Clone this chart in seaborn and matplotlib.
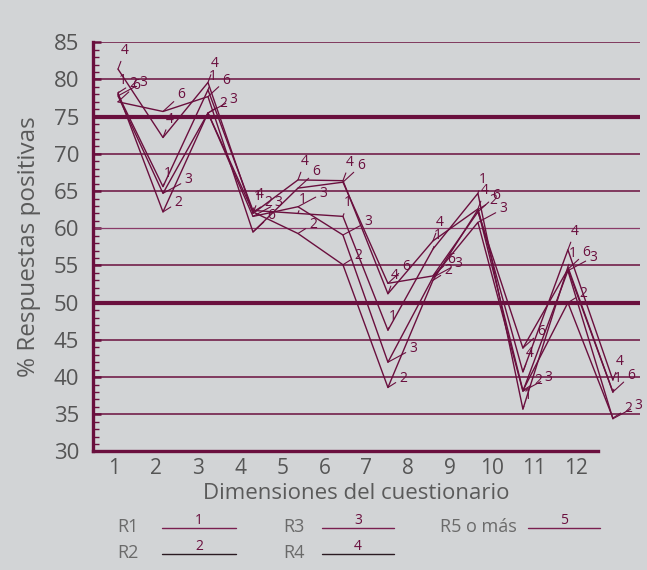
import numpy as np
import pandas as pd
import matplotlib
matplotlib.use("Agg")
import matplotlib.pyplot as plt
import seaborn as sns
from matplotlib.lines import Line2D

# datos (% respuestas positivas por dimension)
dimensiones = list(range(1, 13))
r1 = [78.0, 65.6, 78.6, 62.4, 62.0, 61.6, 46.3, 57.2, 64.7, 35.7, 54.8, 38.0]
r2 = [78.2, 62.2, 75.5, 62.2, 59.3, 55.1, 38.6, 53.0, 62.5, 38.2, 50.0, 34.5]
r3 = [77.8, 64.7, 75.5, 61.6, 62.9, 59.1, 42.0, 53.4, 60.8, 38.1, 54.3, 34.4]
r4 = [81.4, 72.2, 79.6, 62.0, 66.5, 66.4, 51.2, 58.3, 62.6, 40.7, 57.1, 39.6]
r5 = [77.0, 75.7, 77.7, 59.5, 65.4, 66.2, 52.6, 53.6, 62.2, 43.9, 54.5, 38.0]
etiquetas_linea = ["1", "2", "3", "4", "6"]
leyenda_nombres = ["R1", "R2", "R3", "R4", "R5 o más"]
leyenda_numeros = ["1", "2", "3", "4", "5"]

series = [r1, r2, r3, r4, r5]
df = pd.DataFrame({
    "dim": dimensiones * len(series),
    "valor": sum(series, []),
    "serie": np.repeat(etiquetas_linea, len(dimensiones)),
})

granate = "#6a0f3e"
gris_texto = "#555555"
fondo = "#d2d4d6"

sns.set_theme(style="white")
plt.rcParams["font.family"] = ["Open Sans", "DejaVu Sans"]

fig = plt.figure(figsize=(6.47, 5.70), dpi=100, facecolor=fondo)
ax = fig.add_axes([0.1437, 0.2079, 0.8453, 0.7179])
ax.set_facecolor(fondo)

# lineas horizontales de referencia
for yv in range(35, 90, 5):
    if yv in (50, 75):
        ax.axhline(yv, color=granate, lw=3.0, zorder=1)
    elif yv == 60:
        ax.axhline(yv, color="#8a3a68", lw=0.9, zorder=1)
    else:
        ax.axhline(yv, color=granate, lw=1.1, zorder=1)

sns.lineplot(data=df, x="dim", y="valor", hue="serie", estimator=None,
             palette={k: granate for k in etiquetas_linea}, legend=False,
             lw=1.0, ax=ax, zorder=3)

offsets = {"1": (5, 6), "2": (15, 2), "3": (25, 6), "4": (7, 11), "6": (18, 9)}
for et, vals in zip(etiquetas_linea, series):
    for xv, yv in zip(dimensiones, vals):
        ax.annotate(et, xy=(xv, yv), xytext=offsets[et], textcoords="offset pixels",
                    fontsize=10, color=granate, ha="center", va="bottom",
                    arrowprops=dict(arrowstyle="-", color=granate, lw=0.8,
                                    shrinkA=0, shrinkB=0), zorder=4)

ax.set_ylim(30, 85)
ax.set_xlim(0.444, 12.6)

# eje x por categorias
bordes = 0.45 + 0.934 * np.arange(13)
centros = (bordes[:-1] + bordes[1:]) / 2
ax.set_xticks(bordes)
ax.set_xticklabels([""] * 13)
ax.set_xticks(centros, minor=True)
ax.set_xticklabels([str(d) for d in dimensiones], minor=True)
ax.tick_params(axis="x", which="major", direction="in", length=6, width=1.5, color=granate)
ax.tick_params(axis="x", which="minor", length=0, pad=5, labelsize=15, labelcolor=gris_texto)

ax.set_yticks(range(30, 90, 5))
ax.set_yticks(range(30, 86), minor=True)
ax.tick_params(axis="y", which="major", direction="in", length=6, width=1.8, color=granate,
               pad=10, labelsize=16, labelcolor=gris_texto)
ax.tick_params(axis="y", which="minor", direction="in", length=4, width=1.0, color=granate)
ax.yaxis.set_tick_params(which="both", left=True)

for s in ["top", "right"]:
    ax.spines[s].set_visible(False)
ax.spines["left"].set_color(granate)
ax.spines["left"].set_linewidth(2.4)
ax.spines["bottom"].set_color(granate)
ax.spines["bottom"].set_linewidth(2.4)
ax.spines["bottom"].set_bounds(bordes[0], bordes[-1])

ax.set_xlabel("")
ax.set_ylabel("")
fig.text(0.045, 0.567, "% Respuestas positivas", rotation=90, ha="center", va="center",
         fontsize=17.5, color="#5a5a5a")
fig.text(0.55, 0.135, "Dimensiones del cuestionario", ha="center", va="center",
         fontsize=16, color="#5a5a5a")

# leyenda manual
pos = [(117, 527, 162, 236), (117, 553, 162, 236), (283, 527, 322, 394),
       (283, 553, 322, 394), (440, 527, 528, 600)]
colores_ley = ["#7a1f50", "#2a1a22", "#7a1f50", "#2a1a22", "#7a1f50"]
W, H = 647.0, 570.0
for (tx, ty, l0, l1), nom, num, c in zip(pos, leyenda_nombres, leyenda_numeros, colores_ley):
    fig.text(tx / W, 1 - ty / H, nom, ha="left", va="center", fontsize=13, color="#6a6a6a")
    fig.add_artist(Line2D([l0 / W, l1 / W], [1 - (ty + 1) / H, 1 - (ty + 1) / H],
                          color=c, lw=1.0, transform=fig.transFigure))
    fig.text((l0 + l1) / 2 / W, 1 - (ty + 1) / H, num, ha="center", va="bottom",
             fontsize=10, color=granate)

fig.savefig("out.png", dpi=100, facecolor=fondo)
